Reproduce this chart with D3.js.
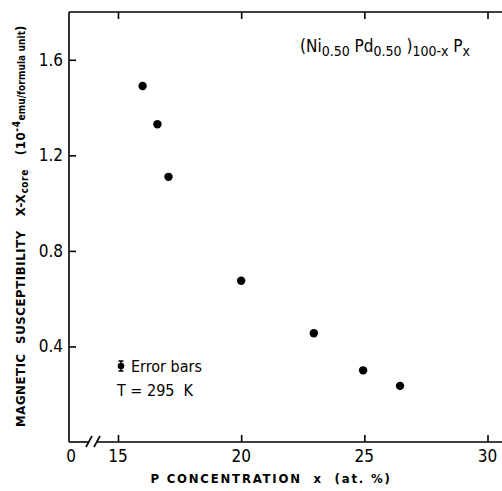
<!DOCTYPE html>
<html lang="en">
<head>
<meta charset="UTF-8">
<title>Magnetic susceptibility vs P concentration</title>
<script src="https://d3js.org/d3.v7.min.js"></script>
<style>
    body { margin: 0; background: #fff; }
    svg text { font-family: "Liberation Sans Narrow", "DejaVu Sans Condensed", "Liberation Sans", sans-serif; fill: #000; }
    .tick-label { font-size: 17px; }
    .axis-title { font-size: 13px; font-weight: bold; }
</style>
</head>
<body>
<div id="chart"></div>
<script>
// data
const pConc = [16.0, 16.6, 17.05, 20.0, 22.95, 24.95, 26.45];
const chi = [1.49, 1.33, 1.11, 0.675, 0.455, 0.30, 0.235];
const xTicks = [15, 20, 25, 30];
const yTicks = [0.4, 0.8, 1.2, 1.6];

const W = 502, H = 491;
const margin = { top: 12, right: 0, bottom: 49, left: 69 };

const svg = d3.select("#chart").append("svg")
    .attr("width", W)
    .attr("height", H);

// x: 15..30 mapped, axis starts at 0 with a break
const x = d3.scaleLinear().domain([15, 30]).range([118, 487.5]);
const y = d3.scaleLinear().domain([0, 1.8]).range([H - margin.bottom, margin.top]);

const x0 = margin.left, yB = H - margin.bottom, yT = margin.top;

// frame lines
const ax = svg.append("g").attr("stroke", "#000").attr("stroke-width", 1.6).attr("fill", "none");
ax.append("line").attr("x1", x0).attr("x2", x0).attr("y1", yT).attr("y2", yB);
ax.append("line").attr("x1", x0).attr("x2", W).attr("y1", yT).attr("y2", yT);
ax.append("line").attr("x1", x0).attr("x2", 89).attr("y1", yB).attr("y2", yB);
ax.append("line").attr("x1", 97).attr("x2", W).attr("y1", yB).attr("y2", yB);
// axis break marks
ax.append("line").attr("x1", 86).attr("x2", 92).attr("y1", yB + 5).attr("y2", yB - 6);
ax.append("line").attr("x1", 94).attr("x2", 100).attr("y1", yB + 5).attr("y2", yB - 6);

// bottom axis (ticks inward)
const bottomAxis = svg.append("g")
    .attr("transform", `translate(0,${yB})`)
    .call(d3.axisTop(x).tickValues(xTicks).tickSize(7).tickFormat(""));
bottomAxis.select(".domain").remove();
bottomAxis.selectAll("line").attr("stroke-width", 1.6);

// top axis (ticks inward)
const topAxis = svg.append("g")
    .attr("transform", `translate(0,${yT})`)
    .call(d3.axisBottom(x).tickValues(xTicks).tickSize(7).tickFormat(""));
topAxis.select(".domain").remove();
topAxis.selectAll("line").attr("stroke-width", 1.6);

// left axis (ticks inward)
const leftAxis = svg.append("g")
    .attr("transform", `translate(${x0},0)`)
    .call(d3.axisRight(y).tickValues(yTicks).tickSize(7).tickFormat(""));
leftAxis.select(".domain").remove();
leftAxis.selectAll("line").attr("stroke-width", 1.6);

// tick labels
svg.selectAll(".xlab")
    .data([0].concat(xTicks))
    .enter().append("text")
    .attr("class", "tick-label")
    .attr("x", d => d === 0 ? x0 + 2 : x(d))
    .attr("y", yB + 20)
    .attr("text-anchor", "middle")
    .text(d => d);

svg.selectAll(".ylab")
    .data(yTicks)
    .enter().append("text")
    .attr("class", "tick-label")
    .attr("x", x0 - 6)
    .attr("y", d => y(d))
    .attr("dy", "0.35em")
    .attr("text-anchor", "end")
    .text(d => d.toFixed(1));

// points
svg.selectAll(".pt")
    .data(pConc.map((p, i) => [p, chi[i]]))
    .enter().append("circle")
    .attr("cx", d => x(d[0]))
    .attr("cy", d => y(d[1]))
    .attr("r", 4.2)
    .attr("fill", "#000");

// x axis title
svg.append("text")
    .attr("class", "axis-title")
    .attr("x", 271)
    .attr("y", 483)
    .attr("text-anchor", "middle")
    .style("letter-spacing", "1.8px")
    .attr("xml:space", "preserve")
    .text("P CONCENTRATION  x  (at. %)");

// y axis title
const yt = svg.append("text")
    .attr("class", "axis-title")
    .attr("transform", "translate(25,226) rotate(-90)")
    .attr("text-anchor", "middle")
    .style("letter-spacing", "0.6px")
    .attr("xml:space", "preserve");
yt.append("tspan").text("MAGNETIC  SUSCEPTIBILITY   X-X");
yt.append("tspan").attr("baseline-shift", "-30%").attr("font-size", "10px").text("core");
yt.append("tspan").text("   (10");
yt.append("tspan").attr("baseline-shift", "super").attr("font-size", "10px").text("-4");
yt.append("tspan").attr("font-size", "10px").style("letter-spacing", "0.1px").text("emu/formula unit");
yt.append("tspan").text(")");

// composition label
const comp = svg.append("text")
    .attr("x", 300)
    .attr("y", 52)
    .attr("font-size", "17px")
    .attr("xml:space", "preserve");
comp.append("tspan").text("(Ni");
comp.append("tspan").attr("baseline-shift", "-30%").attr("font-size", "14px").text("0.50");
comp.append("tspan").text(" Pd");
comp.append("tspan").attr("baseline-shift", "-30%").attr("font-size", "14px").text("0.50");
comp.append("tspan").text(" )");
comp.append("tspan").attr("baseline-shift", "-30%").attr("font-size", "14px").text("100-x");
comp.append("tspan").text(" P");
comp.append("tspan").attr("baseline-shift", "-30%").attr("font-size", "14px").text("x");

// legend
const lg = svg.append("g").attr("transform", "translate(121,366)");
lg.append("line").attr("x1", 0).attr("x2", 0).attr("y1", -5).attr("y2", 5).attr("stroke", "#000").attr("stroke-width", 1.5);
lg.append("line").attr("x1", -2.5).attr("x2", 2.5).attr("y1", -5).attr("y2", -5).attr("stroke", "#000").attr("stroke-width", 1.5);
lg.append("line").attr("x1", -2.5).attr("x2", 2.5).attr("y1", 5).attr("y2", 5).attr("stroke", "#000").attr("stroke-width", 1.5);
lg.append("circle").attr("r", 3.3).attr("fill", "#000");
svg.append("text").attr("x", 131).attr("y", 372).attr("font-size", "16px").text("Error bars");
svg.append("text").attr("x", 117).attr("y", 396).attr("font-size", "16px")
    .attr("xml:space", "preserve").text("T = 295  K");
</script>
</body>
</html>
